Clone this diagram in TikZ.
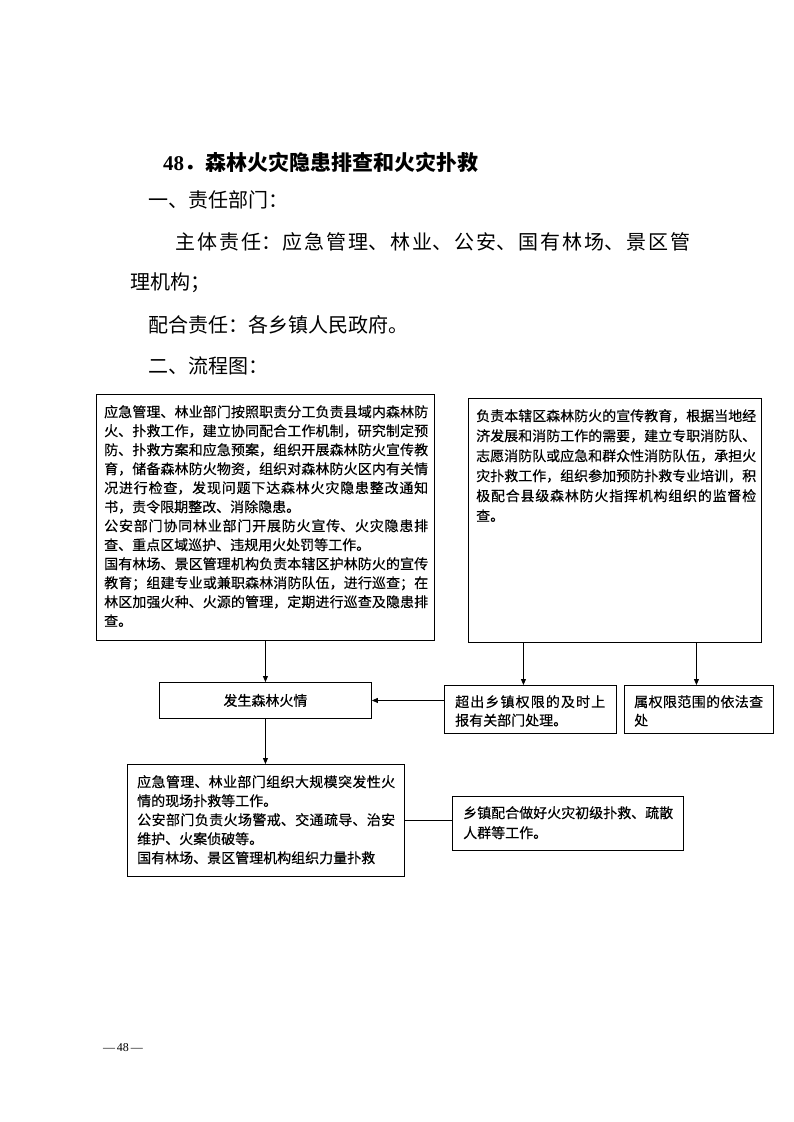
\documentclass[tikz,border=0pt]{standalone}
\usepackage{fontspec}
\newfontfamily\cjk{Noto Sans CJK SC}
\newfontfamily\cjkbox[FakeBold=0.4]{Noto Sans CJK SC}
\newfontfamily\numfont{Liberation Serif}
\usetikzlibrary{arrows.meta}
\XeTeXlinebreaklocale "zh"
\XeTeXlinebreakskip=0pt plus 3pt
\begin{document}
\begin{tikzpicture}[x=1pt,y=-1pt,
  box/.style={draw=black, line width=0.9pt, inner sep=0pt, anchor=north west},
  txt/.style={inner sep=0pt, anchor=north west, align=justify, font=\cjkbox\fontsize{14}{19}\selectfont},
  head/.style={inner sep=0pt, anchor=west, font=\cjk\fontsize{20}{24}\selectfont},
  arr/.style={line width=0.8pt, -{Triangle[length=6pt,width=5pt]}},
  ln/.style={line width=0.8pt}]
\useasboundingbox (0,0) rectangle (793,1122);

% headings
\node[inner sep=0pt, anchor=west, font=\cjk\bfseries\fontsize{21}{24}\selectfont] (title) at (163,162) {{\numfont 48}．森林火灾隐患排查和火灾扑救};
\node[head] (h1) at (148,200) {一、责任部门：};
\node[inner sep=0pt, anchor=north west, align=justify, text width=560pt, font=\cjk\fontsize{20}{40}\selectfont] (h2) at (130,232)
  {\hspace*{45pt}主体责任：应急管理、林业、公安、国有林场、景区管\linebreak 理机构；};
\node[head] (h3) at (148,325) {配合责任：各乡镇人民政府。};
\node[head] (h4) at (148,366) {二、流程图：};

% boxes
\node[box, minimum width=338pt, minimum height=246pt] (A) at (96,394) {};
\node[box, minimum width=293pt, minimum height=244pt] (B) at (468,398) {};
\node[box, minimum width=212pt, minimum height=36pt] (F) at (159,682) {};
\node[box, minimum width=172pt, minimum height=48pt] (U) at (444,685) {};
\node[box, minimum width=149pt, minimum height=48pt] (S) at (624,685) {};
\node[box, minimum width=277pt, minimum height=112pt] (D) at (127,764) {};
\node[box, minimum width=231pt, minimum height=54pt] (E) at (452,796) {};

% texts
\node[txt, text width=324pt] (At) at (104,405) {应急管理、林业部门按照职责分工负责县域内森林防\linebreak
火、扑救工作，建立协同配合工作机制，研究制定预\linebreak
防、扑救方案和应急预案，组织开展森林防火宣传教\linebreak
育，储备森林防火物资，组织对森林防火区内有关情\linebreak
况进行检查，发现问题下达森林火灾隐患整改通知\linebreak
书，责令限期整改、消除隐患。\par
公安部门协同林业部门开展防火宣传、火灾隐患排\linebreak
查、重点区域巡护、违规用火处罚等工作。\par
国有林场、景区管理机构负责本辖区护林防火的宣传\linebreak
教育；组建专业或兼职森林消防队伍，进行巡查；在\linebreak
林区加强火种、火源的管理，定期进行巡查及隐患排\linebreak
查。};

\node[txt, text width=280pt, font=\cjkbox\fontsize{14}{20}\selectfont] (Bt) at (476,409) {负责本辖区森林防火的宣传教育，根据当地经\linebreak
济发展和消防工作的需要，建立专职消防队、\linebreak
志愿消防队或应急和群众性消防队伍，承担火\linebreak
灾扑救工作，组织参加预防扑救专业培训，积\linebreak
极配合县级森林防火指挥机构组织的监督检\linebreak
查。};

\node[inner sep=0pt, font=\cjkbox\fontsize{14}{19}\selectfont] (Ft) at (F.center) {发生森林火情};

\node[txt, text width=150pt, font=\cjkbox\fontsize{14}{18.5}\selectfont] (Ut) at (455,695) {超出乡镇权限的及时上\linebreak 报有关部门处理。};
\node[txt, text width=129pt, font=\cjkbox\fontsize{14}{18.5}\selectfont] (St) at (634,695) {属权限范围的依法查\linebreak 处};

\node[txt, text width=258pt] (Dt) at (137,775) {应急管理、林业部门组织大规模突发性火\linebreak
情的现场扑救等工作。\par
公安部门负责火场警戒、交通疏导、治安\linebreak
维护、火案侦破等。\par
国有林场、景区管理机构组织力量扑救};

\node[txt, text width=210pt, font=\cjkbox\fontsize{14}{20}\selectfont] (Et) at (463,806) {乡镇配合做好火灾初级扑救、疏散\linebreak 人群等工作。};

% connectors
\draw[arr] (F.north |- A.south) -- (F.north);
\draw[arr] (F.south) -- (F.south |- D.north);
\draw[arr] ([xshift=-7pt]U.north |- B.south) -- ([xshift=-7pt]U.north);
\draw[arr] ([xshift=-2.5pt]S.north |- B.south) -- ([xshift=-2.5pt]S.north);
\draw[arr] (U.west |- F.east) -- (F.east);
\draw[ln] (D.east) -- (D.east -| E.west);

% page number
\node[inner sep=0pt, font=\numfont\fontsize{12}{14}\selectfont] (pn) at (123,1048) {—\,48\,—};
\end{tikzpicture}
\end{document}
